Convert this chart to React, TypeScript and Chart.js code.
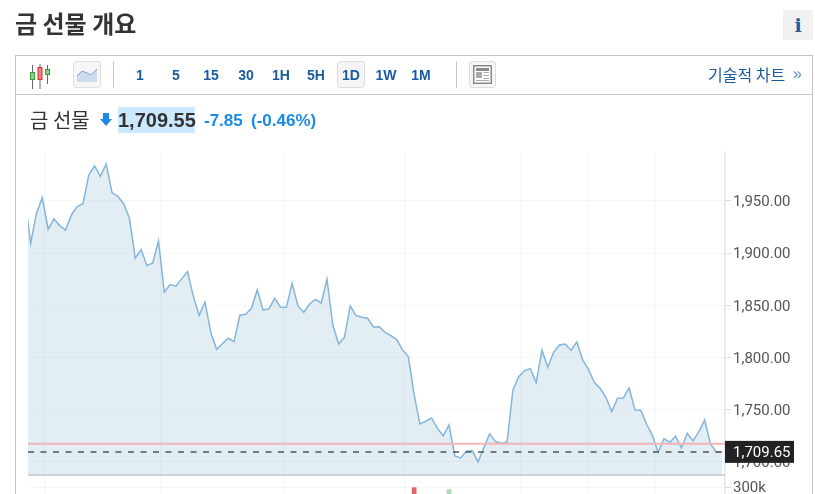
import React, { useEffect, useRef } from "react";
import { Chart, registerables } from "chart.js";

Chart.register(...registerables);

const prices = [
  1953.4, 1909.5, 1938.2, 1953.2, 1922.9, 1932.8, 1926.4, 1922.2, 1936.6, 1944.6,
  1947.4, 1974.9, 1983.5, 1973.6, 1985.4, 1958, 1954.5, 1947.4, 1933.4, 1895.1,
  1903.4, 1888.1, 1890.6, 1911.7, 1862.8, 1869.9, 1868.3, 1875.6, 1882.3, 1858.4,
  1840.5, 1853.3, 1823.9, 1807.9, 1813.3, 1818.5, 1815.3, 1840.5, 1841.4, 1847.2,
  1864.8, 1845.6, 1846.6, 1856.8, 1848.1, 1848.1, 1871.1, 1849.4, 1843.4, 1851.3,
  1855.8, 1852.3, 1875, 1831.2, 1813, 1819.4, 1849.4, 1840.2, 1838.6, 1837.6,
  1829.3, 1829.6, 1824.2, 1821, 1817.2, 1807.3, 1800.9, 1764.2, 1736.4, 1739,
  1742.1, 1732.2, 1724.9, 1735.4, 1705.7, 1703.8, 1710.2, 1710.9, 1700, 1713.7,
  1727.1, 1719.5, 1717.9, 1719.2, 1769, 1781.7, 1787.5, 1789.4, 1776, 1807.3,
  1790.7, 1805, 1812.1, 1813, 1807, 1814.9, 1797.7, 1788.8, 1776.3, 1770.6,
  1761.9, 1748.2, 1761, 1761.3, 1770.9, 1749.8, 1749.5, 1736.1, 1725.5, 1709.3,
  1722.4, 1718.8, 1724.6, 1713.4, 1727.5, 1720.1, 1729.1, 1740.2, 1717.2, 1709.6,
  1709.65,
];
const volumeIndex = [67, 73];
const volumeValues = [300000, 284000];
const volumeColors = ["#e0666c", "#a9d8b4"];
const dateGridTicks = [3.41, 23.4, 44.5, 65.3, 85.4, 96.8, 108.4];
const priceTicks = [1700, 1750, 1800, 1850, 1900, 1950];
const previousClose = 1717.4;
const lastPrice = 1709.65;
const intervals = ["1", "5", "15", "30", "1H", "5H", "1D", "1W", "1M"];
const intervalCenters = [140, 176, 211, 246, 281, 316, 351, 386, 421];

const X_MIN = 0.54;
const X_MAX = 120.5;
const Y_MIN = 1687.5;
const Y_MAX = 1996.9;
const KR = '"Noto Sans CJK KR", "Liberation Sans", sans-serif';
const AR = '"Liberation Sans", Arial, sans-serif';
const BLUE = "#1a5a9e";

const priceTag = {
  id: "priceTag",
  afterDraw(chart: any) {
    const { ctx, scales } = chart;
    const y = scales.y.getPixelForValue(lastPrice);
    const b = scales.y.bottom;
    ctx.save();
    ctx.fillStyle = "#d2d2d2";
    ctx.fillRect(chart.chartArea.left, b - 1, chart.chartArea.right - chart.chartArea.left, 2);
    ctx.fillStyle = "#222222";
    ctx.fillRect(725, y - 11, 69, 22);
    ctx.fillStyle = "#ffffff";
    ctx.font = "15px Roboto";
    ctx.textBaseline = "middle";
    ctx.fillText(lastPrice.toFixed(2).replace("1709", "1,709"), 733, y + 1);
    ctx.restore();
  },
};

function Txt(p: { x: number; y: number; c: string; f: string; w?: number; s: number; center?: boolean; t: string }) {
  return (
    <div
      style={{
        position: "absolute",
        left: p.x,
        top: p.y,
        transform: p.center ? "translate(-50%,-50%)" : "translateY(-50%)",
        color: p.c,
        fontFamily: p.f,
        fontWeight: p.w ?? 400,
        fontSize: p.s,
        whiteSpace: "nowrap",
        lineHeight: 1,
      }}
    >
      {p.t}
    </div>
  );
}

function Box(p: { x: number; y: number; w: number; h: number; bg?: string; border?: string; r?: number }) {
  return (
    <div
      style={{
        position: "absolute",
        left: p.x,
        top: p.y,
        width: p.w,
        height: p.h,
        boxSizing: "border-box",
        background: p.bg,
        border: p.border,
        borderRadius: p.r,
      }}
    />
  );
}

export default function App() {
  const ref = useRef<HTMLCanvasElement>(null);
  useEffect(() => {
    const fixWidth = (s: any) => {
      s.width = 90;
      s.paddingTop = 0;
      s.paddingBottom = 0;
    };
    const chart = new Chart(ref.current!, {
      type: "line",
      plugins: [priceTag],
      data: {
        datasets: [
          {
            label: "last",
            data: [
              { x: X_MIN, y: lastPrice },
              { x: prices.length - 1, y: lastPrice },
            ],
            borderColor: "#4f555a",
            borderWidth: 1.5,
            borderDash: [6, 6.5],
            pointRadius: 0,
            yAxisID: "y",
          },
          {
            label: "prev",
            data: [
              { x: X_MIN, y: previousClose },
              { x: X_MAX, y: previousClose },
            ],
            borderColor: "#f3b4b6",
            borderWidth: 2,
            pointRadius: 0,
            yAxisID: "y",
          },
          {
            label: "금 선물",
            data: prices.map((v, i) => ({ x: i, y: v })),
            borderColor: "#84b5da",
            borderWidth: 1.5,
            backgroundColor: "rgba(115,165,200,0.2)",
            fill: { value: Y_MIN },
            pointRadius: 0,
            tension: 0,
            yAxisID: "y",
          },
          {
            type: "bar",
            label: "volume",
            data: volumeIndex.map((x, i) => ({ x, y: volumeValues[i] })),
            backgroundColor: volumeColors,
            barThickness: 4,
            yAxisID: "yv",
          },
        ] as any,
      },
      options: {
        responsive: false,
        animation: false,
        layout: { padding: { left: 28, top: 152, right: 0, bottom: 0 } },
        plugins: { legend: { display: false }, tooltip: { enabled: false } },
        scales: {
          x: {
            type: "linear",
            min: X_MIN,
            max: X_MAX,
            offset: false,
            border: { display: false },
            ticks: { display: false },
            grid: { color: "rgba(200,210,225,0.16)", drawTicks: false, offset: false, lineWidth: 1.5 },
            afterBuildTicks: (s: any) => {
              s.ticks = dateGridTicks.map((value) => ({ value }));
            },
          },
          y: {
            type: "linear",
            position: "right",
            stack: "panes",
            stackWeight: 323,
            min: Y_MIN,
            max: Y_MAX,
            border: { color: "#e2e7f0", width: 1.5 },
            grid: { color: "rgba(190,195,205,0.14)", tickLength: 6, tickColor: "#dddddd" },
            ticks: {
              padding: 2,
              labelOffset: 1.5,
              color: "#555555",
              font: { family: "Roboto", size: 15 },
              callback: (v: any) => Number(v).toLocaleString("en-US", { minimumFractionDigits: 2 }),
            },
            afterBuildTicks: (s: any) => {
              s.ticks = priceTicks.map((value) => ({ value }));
            },
            afterFit: fixWidth,
          },
          yv: {
            type: "linear",
            position: "right",
            stack: "panes",
            stackWeight: 19,
            min: 250000,
            max: 400000,
            border: { color: "#e2e7f0", width: 1.5 },
            grid: { color: "rgba(190,195,205,0.14)", tickLength: 6, tickColor: "#dddddd" },
            ticks: {
              padding: 2,
              labelOffset: 1,
              color: "#555555",
              font: { family: "Roboto", size: 15 },
              callback: (v: any) => (Number(v) === 300000 ? "300k" : ""),
            },
            afterBuildTicks: (s: any) => {
              s.ticks = [{ value: 300000 }];
            },
            afterFit: fixWidth,
          },
        },
      } as any,
    });
    return () => chart.destroy();
  }, []);

  return (
    <div style={{ position: "absolute", left: 0, top: 0, width: 815, height: 494, overflow: "hidden", background: "#fff" }}>
      <canvas ref={ref} width={815} height={494} style={{ position: "absolute", left: 0, top: 0, display: "block" }} />

      <Txt x={15} y={23} c="#333333" f={KR} w={700} s={24} t="금 선물 개요" />
      <Box x={783} y={10} w={30} h={30} bg="#f1f1f1" />
      <Txt x={798} y={25} c="#1d5ba3" f='"DejaVu Serif", serif' w={700} s={19} center t="i" />

      <Box x={15} y={55} w={798} h={40} border="1px solid #c4c4c4" />
      <div style={{ position: "absolute", left: 15, top: 95, width: 1, height: 399, background: "#c4c4c4" }} />
      <div style={{ position: "absolute", left: 812, top: 95, width: 1, height: 399, background: "#c4c4c4" }} />

      <svg style={{ position: "absolute", left: 28, top: 62, width: 24, height: 28 }} viewBox="0 0 24 28">
        <path d="M4.5 3V27M12 2V27M19.5 3V22" stroke="#666" strokeWidth="1" fill="none" />
        <rect x="2.5" y="10.5" width="4" height="7" fill="#8fd08f" stroke="#3f9a3f" />
        <rect x="10" y="5.5" width="4" height="12" fill="#f08080" stroke="#d03030" />
        <rect x="17.5" y="7.5" width="4" height="5" fill="#8fd08f" stroke="#3f9a3f" />
      </svg>
      <Box x={73} y={61} w={28} h={27} bg="#f6f6f6" border="1px solid #dddddd" r={3} />
      <svg style={{ position: "absolute", left: 77, top: 69, width: 20, height: 14 }} viewBox="0 0 20 14">
        <path d="M0 7L5 2L10 4L14 6L20 0V13H0Z" fill="#cfdcf0" />
        <path d="M0 7L5 2L10 4L14 6L20 0" stroke="#7fa6d6" fill="none" />
      </svg>
      <div style={{ position: "absolute", left: 113, top: 61, width: 1, height: 27, background: "#c8c8c8" }} />
      <Box x={337} y={61} w={28} h={27} bg="#f5f5f5" border="1px solid #dddddd" r={3} />
      {intervals.map((t, i) => (
        <Txt key={t} x={intervalCenters[i]} y={75} c={BLUE} f={AR} w={700} s={14} center t={t} />
      ))}
      <div style={{ position: "absolute", left: 456, top: 61, width: 1, height: 27, background: "#c8c8c8" }} />
      <Box x={469} y={61} w={27} h={27} bg="#f6f6f6" border="1px solid #dddddd" r={3} />
      <svg style={{ position: "absolute", left: 473, top: 65, width: 19, height: 19 }} viewBox="0 0 19 19">
        <rect x="0.75" y="0.75" width="17.5" height="17.5" fill="#fff" stroke="#888" strokeWidth="1.5" />
        <rect x="3" y="3" width="13" height="3" fill="#888" />
        <rect x="3" y="7" width="6" height="6" fill="#aaa" />
        <path d="M10.5 7.5H16M10.5 10.5H16M10.5 13.5H16M3 15.5H16" stroke="#aaa" />
      </svg>
      <Txt x={708} y={74} c={BLUE} f={KR} s={16} t="기술적 차트" />
      <Txt x={793} y={74} c="#5a8ac6" f={AR} s={16} t="»" />

      <Txt x={30} y={120} c="#333333" f={KR} s={20} t="금 선물" />
      <svg style={{ position: "absolute", left: 100, top: 113, width: 12, height: 13 }} viewBox="0 0 12 13">
        <path d="M3 0H9V6H12L6 13L0 6H3Z" fill="#1a8ae6" />
      </svg>
      <Box x={118} y={107} w={77} h={26} bg="#cce9ff" />
      <Txt x={118} y={120} c="#333333" f={AR} w={700} s={20} t="1,709.55" />
      <Txt x={204} y={120} c="#1a8ae6" f={AR} w={700} s={17} t="-7.85" />
      <Txt x={251} y={120} c="#1a8ae6" f={AR} w={700} s={17} t="(-0.46%)" />
    </div>
  );
}
